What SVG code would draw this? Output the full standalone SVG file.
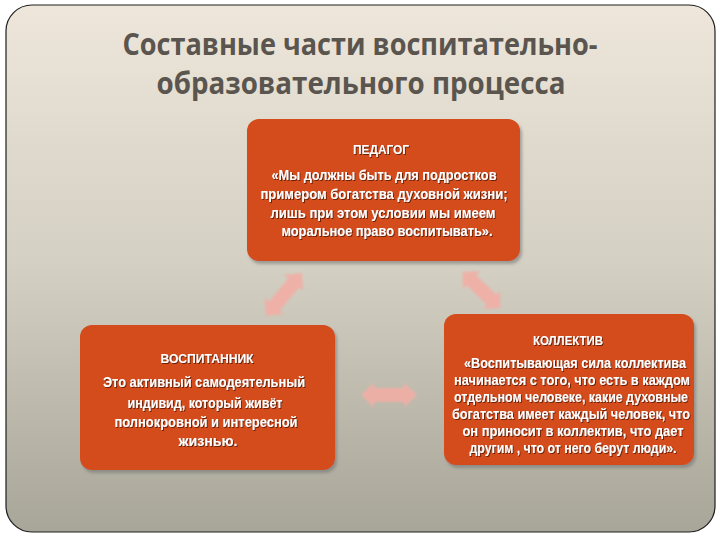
<svg xmlns="http://www.w3.org/2000/svg" width="720" height="540" viewBox="0 0 720 540">
  <defs>
    <linearGradient id="bg" x1="0" y1="0" x2="0" y2="1">
      <stop offset="0" stop-color="#EEE6DA"/>
      <stop offset="0.5" stop-color="#D3CFC2"/>
      <stop offset="1" stop-color="#A8A698"/>
    </linearGradient>
    <filter id="boxsh" x="-10%" y="-10%" width="120%" height="125%">
      <feDropShadow dx="2" dy="3" stdDeviation="1.5" flood-color="#6E6E6E" flood-opacity="0.55"/>
    </filter>
    <filter id="txtsh" x="-5%" y="-20%" width="110%" height="150%">
      <feDropShadow dx="1" dy="1" stdDeviation="0.4" flood-color="#3A1000" flood-opacity="0.7"/>
    </filter>
    <filter id="soft" x="-20%" y="-20%" width="140%" height="140%">
      <feGaussianBlur stdDeviation="1"/>
    </filter>
    <path id="dbl" d="M -28 0 L -15 -12.5 L -15 -7 L 15 -7 L 15 -12.5 L 28 0 L 15 12.5 L 15 7 L -15 7 L -15 12.5 Z"/>
  </defs>
  <style>
    .title { font-family: "Open Sans", "Noto Sans", "DejaVu Sans", sans-serif; font-weight: 700; font-size: 30px; fill: #5A554E; text-anchor: middle; }
    .box { fill: #D44B1D; filter: url(#boxsh); }
    .t { font-family: "Liberation Sans Narrow", "Liberation Sans", Arial, sans-serif; font-weight: bold; font-size: 14px; fill: #FFFFFF; text-anchor: middle; filter: url(#txtsh); }
    .h { font-size: 13px; }
    .arrow { fill: #F2AEA5; opacity: 0.9; filter: url(#soft); }
  </style>

  <rect x="0" y="0" width="720" height="540" fill="#FFFFFF"/>
  <rect x="6" y="5" width="709" height="527" rx="26" ry="26" fill="url(#bg)" stroke="#1E1E1E" stroke-width="1.2"/>

  <g id="title">
    <text class="title" x="360" y="55" textLength="475" lengthAdjust="spacingAndGlyphs">Составные части воспитательно-</text>
    <text class="title" x="361" y="94" textLength="409" lengthAdjust="spacingAndGlyphs">образовательного процесса</text>
  </g>

  <g id="connectors">
    <use href="#dbl" class="arrow" transform="translate(284 294.5) rotate(-50)"/>
    <use href="#dbl" class="arrow" transform="translate(481.5 290) rotate(44) scale(0.93 1)"/>
    <use href="#dbl" class="arrow" transform="translate(389 395)"/>
  </g>

  <g id="pedagog">
    <rect class="box" x="247" y="119" width="273" height="142" rx="12" ry="12"/>
    <text class="t h" x="381" y="154" textLength="56" lengthAdjust="spacingAndGlyphs">ПЕДАГОГ</text>
    <text class="t" x="384" y="180" textLength="225" lengthAdjust="spacingAndGlyphs">«Мы должны быть для подростков</text>
    <text class="t" x="384" y="199" textLength="247" lengthAdjust="spacingAndGlyphs">примером богатства духовной жизни;</text>
    <text class="t" x="383" y="218" textLength="225" lengthAdjust="spacingAndGlyphs">лишь при этом условии мы имеем</text>
    <text class="t" x="387" y="236" textLength="211" lengthAdjust="spacingAndGlyphs">моральное право воспитывать».</text>
  </g>

  <g id="vospitannik">
    <rect class="box" x="80" y="325" width="255" height="145" rx="12" ry="12"/>
    <text class="t h" x="207" y="363" textLength="93" lengthAdjust="spacingAndGlyphs">ВОСПИТАННИК</text>
    <text class="t" x="204" y="387" textLength="202" lengthAdjust="spacingAndGlyphs">Это активный самодеятельный</text>
    <text class="t" x="205" y="408" textLength="155" lengthAdjust="spacingAndGlyphs">индивид, который живёт</text>
    <text class="t" x="206" y="427" textLength="183" lengthAdjust="spacingAndGlyphs">полнокровной и интересной</text>
    <text class="t" x="208" y="446" textLength="59" lengthAdjust="spacingAndGlyphs">жизнью.</text>
  </g>

  <g id="kollektiv">
    <rect class="box" x="444" y="314" width="250" height="151" rx="12" ry="12"/>
    <text class="t h" x="568" y="345" textLength="70" lengthAdjust="spacingAndGlyphs">КОЛЛЕКТИВ</text>
    <text class="t" x="575" y="368" textLength="222" lengthAdjust="spacingAndGlyphs">«Воспитывающая сила коллектива</text>
    <text class="t" x="572" y="385" textLength="236" lengthAdjust="spacingAndGlyphs">начинается с того, что есть в каждом</text>
    <text class="t" x="571" y="402" textLength="234" lengthAdjust="spacingAndGlyphs">отдельном человеке, какие духовные</text>
    <text class="t" x="571" y="419" textLength="238" lengthAdjust="spacingAndGlyphs">богатства имеет каждый человек, что</text>
    <text class="t" x="573" y="436" textLength="221" lengthAdjust="spacingAndGlyphs">он приносит в коллектив, что дает</text>
    <text class="t" x="573" y="453" textLength="207" lengthAdjust="spacingAndGlyphs">другим , что от него берут люди».</text>
  </g>
</svg>
